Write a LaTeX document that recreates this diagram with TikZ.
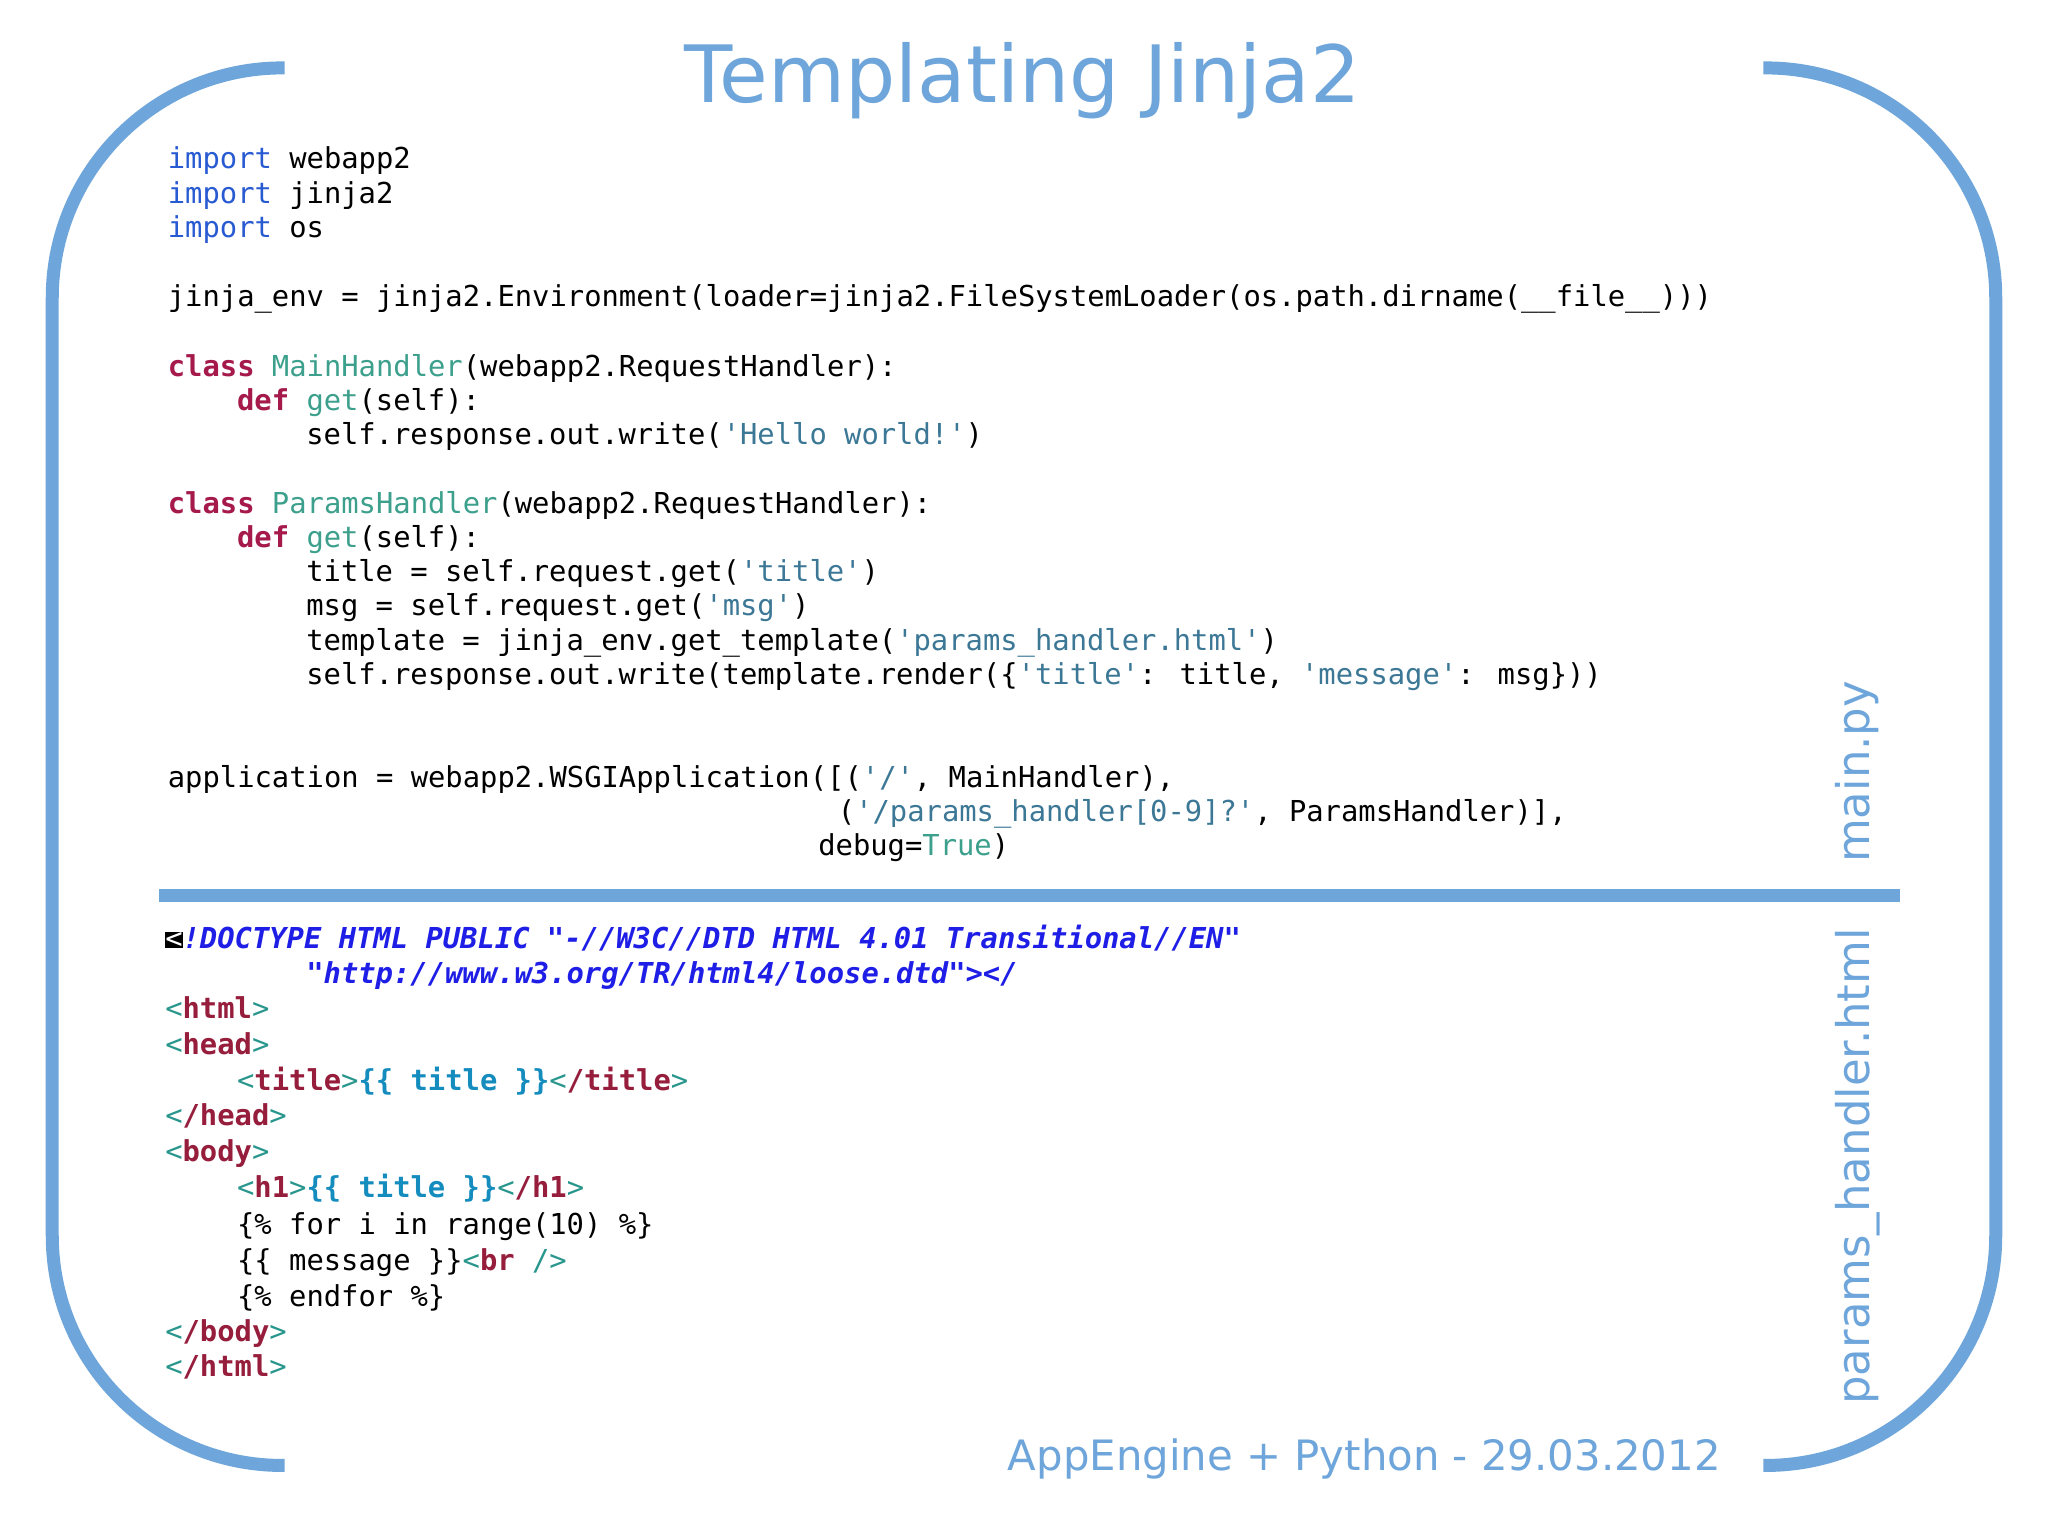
\documentclass[tikz,border=0pt]{standalone}
\usepackage{fontspec}
\setmainfont{DejaVu Sans}
\newfontfamily\code{DejaVu Sans Mono}
\definecolor{frame}{RGB}{110,165,218}
\definecolor{kw}{RGB}{40,90,210}
\definecolor{dk}{RGB}{165,25,75}
\definecolor{cls}{RGB}{60,160,140}
\definecolor{str}{RGB}{60,120,150}
\definecolor{hb}{RGB}{30,30,230}
\definecolor{tagc}{RGB}{150,30,60}
\definecolor{brk}{RGB}{40,150,140}
\definecolor{var}{RGB}{20,140,190}
\newcommand\kwI[1]{\textcolor{kw}{#1}}
\newcommand\kwD[1]{\textcolor{dk}{\textbf{#1}}}
\newcommand\kwC[1]{\textcolor{cls}{#1}}
\newcommand\kwS[1]{\textcolor{str}{#1}}
\newcommand\tg[1]{\textcolor{brk}{<}\textcolor{tagc}{\textbf{#1}}\textcolor{brk}{>}}
\newcommand\vr[1]{\textcolor{var}{\textbf{#1}}}
\tikzset{cl/.style={anchor=base west,inner sep=0pt,font=\code\fontsize{8.2}{10}\selectfont},
lbl/.style={text=frame,inner sep=0pt}}
\begin{document}
\begin{tikzpicture}[x=0.01306cm,y=-0.01306cm]
\useasboundingbox[fill=white] (0,0) rectangle (1568,1176);
\draw[frame,line width=3.7pt,rounded corners=2.3cm] (218,52) -- (40,52) -- (40,1122) -- (218,1122);
\draw[frame,line width=3.7pt,rounded corners=2.3cm] (1350,52) -- (1528,52) -- (1528,1122) -- (1350,1122);
\draw[frame,line width=3.7pt] (122,686) -- (1455,686);
\node[lbl,font=\fontsize{22.5}{26}\selectfont] (title) at (783,62) {Templating Jinja2};
\node[lbl,font=\fontsize{11.9}{14}\selectfont,anchor=base east] (foot) at (1318,1126) {AppEngine + Python - 29.03.2012};
\node[lbl,font=\fontsize{12.8}{15}\selectfont,rotate=90] (mp) at (1422,591) {main.py};
\node[lbl,font=\fontsize{12.8}{15}\selectfont,rotate=90] (ph) at (1422,893) {params\_handler.html};
% python
\node[cl] (p1) at (128,129) {\kwI{import} webapp2};
\node[cl] (p2) at (128,156) {\kwI{import} jinja2};
\node[cl] (p3) at (128,182) {\kwI{import} os};
\node[cl] (p4) at (128,235) {jinja\_env = jinja2.Environment(loader=jinja2.FileSystemLoader(os.path.dirname(\_\_file\_\_)))};
\node[cl] (p5) at (128,288) {\kwD{class} \kwC{MainHandler}(webapp2.RequestHandler):};
\node[cl] (p6) at (181,314) {\kwD{def} \kwC{get}(self):};
\node[cl] (p7) at (234,340) {self.response.out.write(\kwS{'Hello world!'})};
\node[cl] (p8) at (128,393) {\kwD{class} \kwC{ParamsHandler}(webapp2.RequestHandler):};
\node[cl] (p9) at (181,419) {\kwD{def} \kwC{get}(self):};
\node[cl] (p10) at (234,445) {title = self.request.get(\kwS{'title'})};
\node[cl] (p11) at (234,471) {msg = self.request.get(\kwS{'msg'})};
\node[cl] (p12) at (234,498) {template = jinja\_env.get\_template(\kwS{'params\_handler.html'})};
\node[cl] (p13) at (234,524) {self.response.out.write(template.render(\{\kwS{'title'}: title, \kwS{'message'}: msg\}))};
\node[cl] (p14) at (128,603) {application = webapp2.WSGIApplication([(\kwS{'/'}, MainHandler),};
\node[cl] (p15) at (641,629) {(\kwS{'/params\_handler[0-9]?'}, ParamsHandler)],};
\node[cl] (p16) at (626,655) {debug=\kwC{True})};
% html
\node[cl] (h1) at (126,726) {{\setlength\fboxsep{0pt}\colorbox{black}{\textcolor{white}{<}}}\textcolor{hb}{\textbf{\textit{!DOCTYPE HTML PUBLIC "-//W3C//DTD HTML 4.01 Transitional//EN"}}}};
\node[cl] (h2) at (234,753) {\textcolor{hb}{\textbf{\textit{"http://www.w3.org/TR/html4/loose.dtd"></}}}};
\node[cl] (h3) at (126,780) {\tg{html}};
\node[cl] (h4) at (126,807) {\tg{head}};
\node[cl] (h5) at (181,835) {\tg{title}\vr{\{\{ title \}\}}\tg{/title}};
\node[cl] (h6) at (126,862) {\tg{/head}};
\node[cl] (h7) at (126,889) {\tg{body}};
\node[cl] (h8) at (181,917) {\tg{h1}\vr{\{\{ title \}\}}\tg{/h1}};
\node[cl] (h9) at (181,945) {\{\% for i in range(10) \%\}};
\node[cl] (h10) at (181,973) {\{\{ message \}\}\textcolor{brk}{<}\textcolor{tagc}{\textbf{br}} \textcolor{brk}{/>}};
\node[cl] (h11) at (181,1000) {\{\% endfor \%\}};
\node[cl] (h12) at (126,1027) {\tg{/body}};
\node[cl] (h13) at (126,1054) {\tg{/html}};
\end{tikzpicture}
\end{document}
